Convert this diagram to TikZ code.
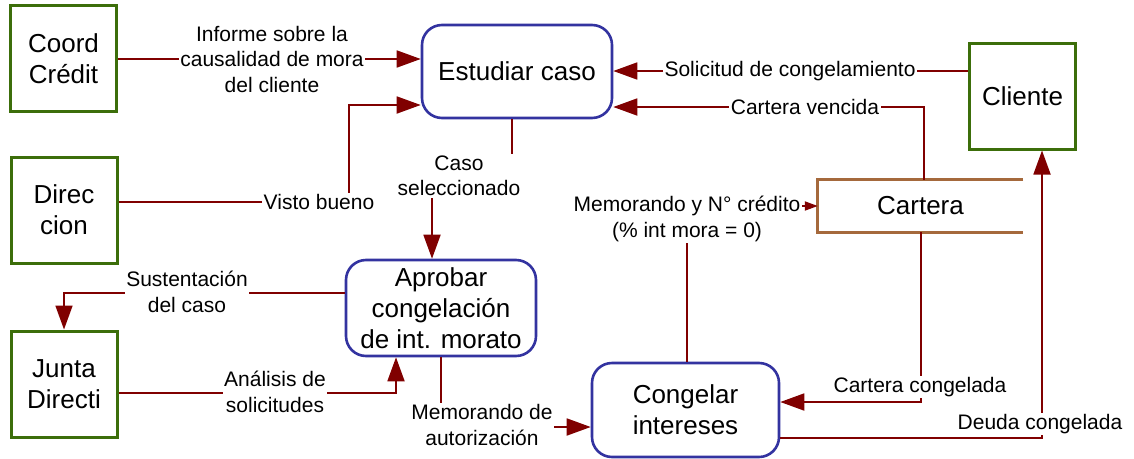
\documentclass[tikz,border=0pt]{standalone}
\usepackage{fontspec}
\setmainfont{Liberation Sans}
\usetikzlibrary{arrows.meta}
\definecolor{flow}{RGB}{128,0,0}
\definecolor{extgreen}{RGB}{60,110,10}
\definecolor{procblue}{RGB}{51,51,160}
\definecolor{storebrown}{RGB}{165,105,60}
\begin{document}
\begin{tikzpicture}[x=1pt,y=-1pt,
  ext/.style={draw=extgreen,line width=3pt,fill=white,minimum width=106pt,minimum height=106pt,inner sep=0pt,align=center,font=\fontsize{26}{31}\selectfont},
  proc/.style={draw=procblue,line width=2.6pt,rounded corners=20pt,fill=white,inner sep=0pt,align=center,font=\fontsize{26}{31}\selectfont},
  store/.style={minimum width=205pt,minimum height=52pt,inner sep=0pt,font=\fontsize{26}{31}\selectfont},
  lbl/.style={fill=white,inner sep=1.5pt,align=center,font=\fontsize{21}{25.5}\selectfont},
  flowline/.style={draw=flow,line width=1.8pt},
  big/.style={-{Triangle[length=24pt,width=17pt]}},
  small/.style={-{Triangle[length=13pt,width=9pt]}}]
\fill[white] (0,0) rectangle (1134,458);
\useasboundingbox (0,0) rectangle (1134,458);

% nodes
\node[ext] (coord) at (63.5,58.5) {Coord\\Crédit};
\node[ext] (dir) at (64,210) {Direc\\cion};
\node[ext] (junta) at (64,384) {Junta\\Directi};
\node[ext] (cliente) at (1022.5,96) {Cliente};
\node[proc,minimum width=190pt,minimum height=93pt] (estudiar) at (517,71.5) {Estudiar caso};
\node[proc,minimum width=190pt,minimum height=96pt] (aprobar) at (441,308) {Aprobar\\congelación\\de int. morato};
\node[proc,minimum width=187pt,minimum height=94pt] (congelar) at (685.5,410) {Congelar\\intereses};
\node[store] (cartera) at (920.5,206) {Cartera};
\draw[storebrown,line width=3pt] (cartera.north east) -- (cartera.north west) -- (cartera.south west) -- (cartera.south east);

% connectors
\draw[flowline,big] (coord.east |- 0,59) -- (estudiar.west |- 0,59);
\node[lbl] (linforme) at (272,59) {Informe sobre la\\causalidad de mora\\del cliente};

\draw[flowline,big] (dir.east |- 0,202) -- (349,202) -- (349,105) -- (estudiar.west |- 0,105);
\node[lbl] (lvisto) at (319,202) {Visto bueno};

\draw[flowline,big] (512,0 |- estudiar.south) -- (512,176) -- (432,176) -- (432,0 |- aprobar.north);
\node[lbl] (lcaso) at (459,176) {Caso\\seleccionado};

\draw[flowline,big] (aprobar.west |- 0,293) -- (64,293) -- (junta.north);
\node[lbl] (lsust) at (187,292) {Sustentación\\del caso};

\draw[flowline,big] (junta.east |- 0,393) -- (396,393) -- (396,0 |- aprobar.south);
\node[lbl] (lanal) at (275,392) {Análisis de\\solicitudes};

\draw[flowline,big] (441,0 |- aprobar.south) -- (441,427) -- (congelar.west |- 0,427);
\node[lbl] (lmemo) at (482,425) {Memorando de\\autorización};

\draw[flowline,small] (687,0 |- congelar.north) -- (687,206) -- (cartera.west);
\node[lbl] (lmemoy) at (687,219) {Memorando y N° crédito\\(\% int mora = 0)};

\draw[flowline,big] (cliente.west |- 0,71) -- (estudiar.east |- 0,71);
\node[lbl] (lsolic) at (790,71) {Solicitud de congelamiento};

\draw[flowline,big] (924,0 |- cartera.north) -- (924,107) -- (estudiar.east |- 0,107);
\node[lbl] (lvenc) at (805,107) {Cartera vencida};

\draw[flowline,big] (921,0 |- cartera.south) -- (921,402) -- (congelar.east |- 0,402);
\node[lbl] (lcong) at (920,387) {Cartera congelada};

\draw[flowline,big] (congelar.east |- 0,438) -- (1042,438) -- (1042,0 |- cliente.south);
\node[lbl] (ldeuda) at (1040,424) {Deuda congelada};
\end{tikzpicture}
\end{document}
